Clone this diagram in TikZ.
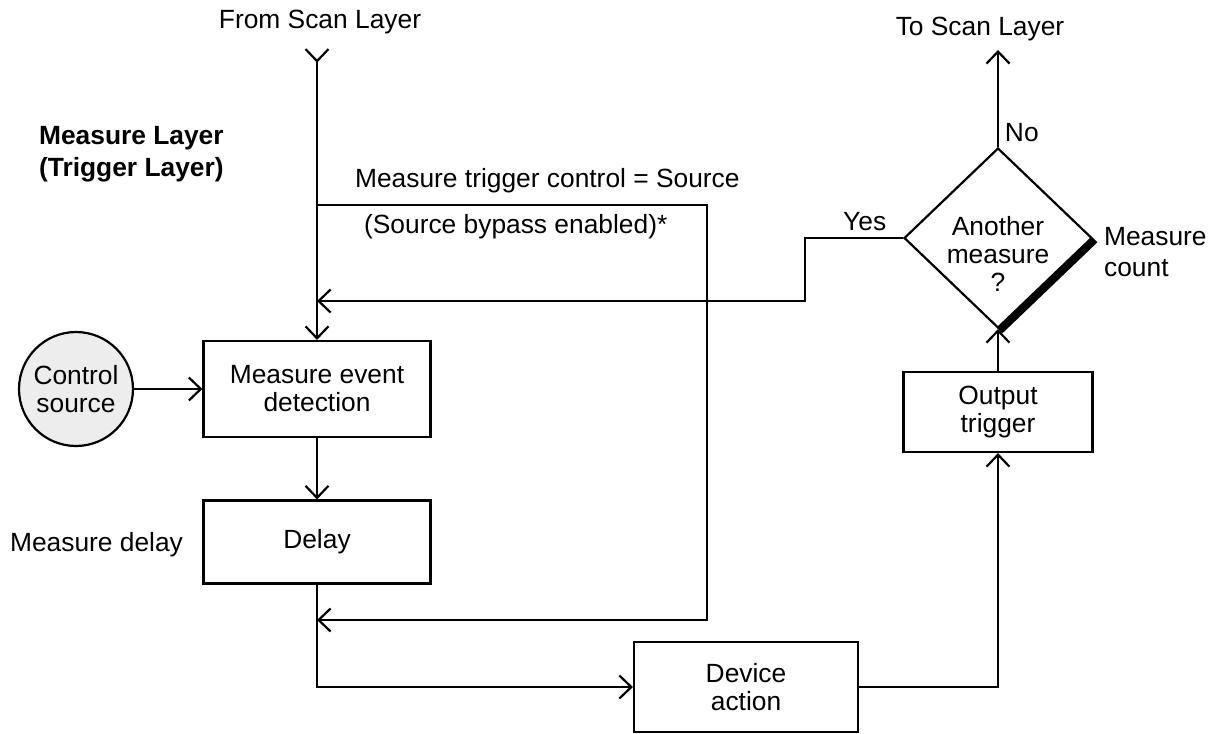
\documentclass[tikz,border=0pt]{standalone}
\usepackage{fontspec}
\setmainfont{Liberation Sans}
\usetikzlibrary{arrows.meta,shapes.geometric}

\begin{document}
\begin{tikzpicture}[
            x=0.02cm,
            y=-0.02cm,
            font=\fontsize{15}{16}\selectfont,
            line width=1.25pt,
            >={Straight Barb[length=0.24cm,width=0.46cm]},
            block/.style={
                rectangle,
                draw,
                align=center,
                inner sep=0pt
            },
            decision/.style={
                diamond,
                draw,
                inner sep=0pt,
                minimum width=3.76cm,
                minimum height=3.6cm
            },
            srccircle/.style={
                circle,
                draw,
                fill=black!7,
                align=center,
                minimum size=2.28cm,
                inner sep=0pt
            },
            tag/.style={
                anchor=west,
                align=left,
                inner sep=0pt
            }
        ]

            \useasboundingbox (0,0) rectangle (1222,733);

            \node[srccircle] (ctrl) at (76,389) {Control\\source};
            \node[block, minimum width=4.54cm, minimum height=1.92cm] (detect) at (317,389) {Measure event\\detection};
            \node[block, minimum width=4.54cm, minimum height=1.66cm] (delay) at (317,542) {Delay};
            \node[block, minimum width=4.48cm, minimum height=1.8cm] (device) at (746,687) {Device\\action};
            \node[block, minimum width=3.78cm, minimum height=1.6cm] (output) at (998,412) {Output\\trigger};
            \node[decision] (query) at (998,238) {\raisebox{-0.53cm}[0pt][0pt]{\begin{tabular}{@{}c@{}}Another\\measure\\?\end{tabular}}};

            \node (fromLabel) at (320,22) {From Scan Layer};
            \node (toLabel) at (980,29) {To Scan Layer};
            \node[tag, font=\fontsize{15}{18}\selectfont\bfseries] (layerLabel) at (38,154) {Measure Layer\\(Trigger Layer)};
            \node[tag] (bypassTop) at (354,181) {Measure trigger control = Source};
            \node[tag] (bypassBot) at (363,227) {(Source bypass enabled)*};
            \node[tag, font=\fontsize{15}{17.5}\selectfont] (countLabel) at (1103,252) {Measure\\count};
            \node[tag] (delayLabel) at (9,545) {Measure delay};

            \coordinate (fromScan) at (317,48);
            \coordinate (toScan) at (998,50);
            \coordinate (split) at (317,205);
            \coordinate (yesjoin) at (317,301);
            \coordinate (rejoin) at (317,620);

            % main flow
            \draw[>->] (fromScan) -- (detect);
            \draw[->] (ctrl) -- (detect);
            \draw[->] (detect) -- (delay);
            \draw[->] (delay) |- (device);
            \draw[->] (device) -| (output);
            \draw[->] (output) -- (query);
            \draw[->] (query) -- (toScan)
                node[pos=0.15, right] {No};

            % source bypass
            \draw[->] (split) -- (707,205) |- (rejoin);

            % another measure
            \draw[->] (query.west) -- ++(-98,0)
                node[pos=0.39, above] {Yes} |- (yesjoin);

            \draw[line width=0.13cm] ([shift={(2,2)}]query.east) -- ([shift={(2,2)}]query.south);

        \end{tikzpicture}
\end{document}
